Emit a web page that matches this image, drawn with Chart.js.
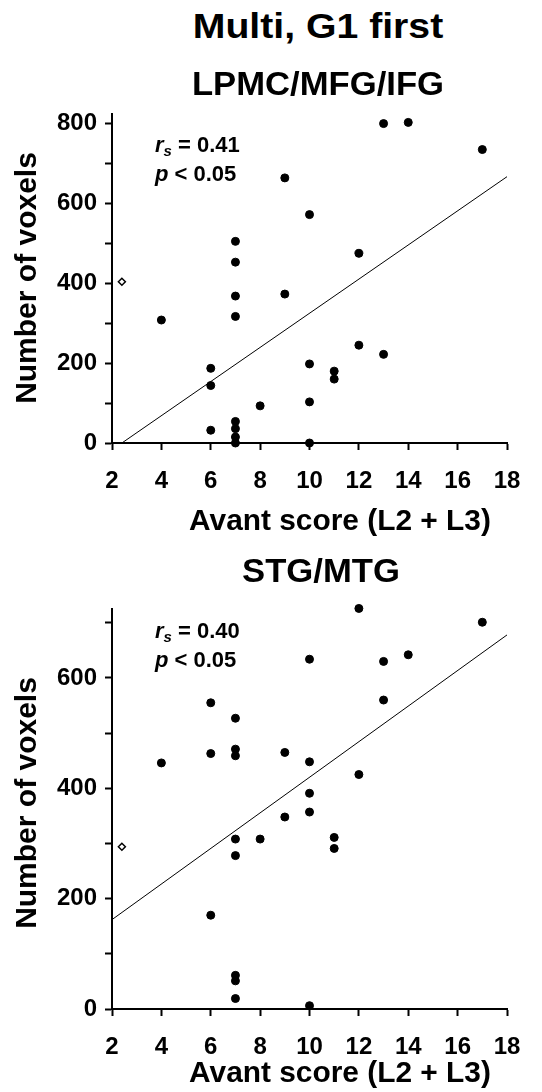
<!DOCTYPE html>
<html lang="en">
<head>
    <meta charset="UTF-8">
    <title>Multi, G1 first</title>
    <style>
        body {
            margin: 0;
            background: #fff;
            font-family: "Liberation Sans", Arial, sans-serif;
            font-weight: bold;
            color: #000;
        }
        .page {
            position: relative;
            width: 542px;
            height: 1092px;
            overflow: hidden;
        }
        .box {
            position: absolute;
            left: 0;
            width: 542px;
        }
        .txt {
            position: absolute;
            width: 600px;
            text-align: center;
            line-height: 1;
            white-space: nowrap;
        }
        .ytitle {
            position: absolute;
            width: 300px;
            text-align: center;
            font-size: 30px;
            line-height: 1;
            white-space: nowrap;
            transform: rotate(-90deg);
        }
        .stat {
            position: absolute;
            font-size: 22px;
            line-height: 29px;
            white-space: nowrap;
        }
        .stat sub {
            font-size: 15px;
            line-height: 0;
            vertical-align: -4px;
        }
    </style>
</head>
<body>
<div class="page">
    <div class="txt" style="left:18px;top:8px;font-size:35px;transform:scaleX(1.12)">Multi, G1 first</div>

    <div class="box" style="top:0;height:545px"><canvas id="chartTop"></canvas></div>
    <div class="txt" style="left:18px;top:67px;font-size:33px;transform:scaleX(1.05)">LPMC/MFG/IFG</div>
    <div class="ytitle" style="left:-124px;top:263px">Number of voxels</div>
    <div class="txt" style="left:40px;top:506px;font-size:29px;transform:scaleX(1.03)">Avant score (L2 + L3)</div>
    <div class="stat" style="left:155px;top:130px"><i>r</i><sub><i>s</i></sub> = 0.41<br><i>p</i> &lt; 0.05</div>

    <div class="box" style="top:545px;height:547px"><canvas id="chartBottom"></canvas></div>
    <div class="txt" style="left:21px;top:554px;font-size:33px;transform:scaleX(1.05)">STG/MTG</div>
    <div class="ytitle" style="left:-124px;top:788px">Number of voxels</div>
    <div class="txt" style="left:40px;top:1058px;font-size:29px;transform:scaleX(1.03)">Avant score (L2 + L3)</div>
    <div class="stat" style="left:155px;top:616px"><i>r</i><sub><i>s</i></sub> = 0.40<br><i>p</i> &lt; 0.05</div>
</div>

<script src="https://cdn.jsdelivr.net/npm/chart.js"></script>
<script>
    // x axis (Avant score) ticks, shared by both panels
    const xTicks = [2, 4, 6, 8, 10, 12, 14, 16, 18];

    // LPMC/MFG/IFG panel
    const lpmcX = [13, 14, 17, 9, 10, 7, 7, 12, 7, 9, 4, 7, 6, 6, 6, 7, 7, 7, 7, 8, 10, 10, 10, 11, 11, 12, 13];
    const lpmcY = [800, 803, 735, 664, 572, 505, 453, 475, 368, 373, 308, 317, 187, 144, 32, 54, 36, 15, 0, 93, 198, 103, 0, 180, 160, 245, 222];
    const lpmcOpenX = [2.4];
    const lpmcOpenY = [404];
    const lpmcFitX = [2.4, 18];
    const lpmcFitY = [0, 667];
    const lpmcYTicks = [0, 100, 200, 300, 400, 500, 600, 700, 800];

    // STG/MTG panel
    const stgX = [12, 17, 10, 13, 14, 13, 6, 7, 6, 7, 7, 9, 10, 4, 12, 10, 10, 9, 7, 8, 11, 11, 7, 6, 7, 7, 7, 10];
    const stgY = [726, 701, 634, 630, 642, 560, 555, 527, 463, 471, 459, 465, 448, 446, 425, 391, 357, 348, 308, 308, 311, 291, 278, 170, 61, 51, 19, 6];
    const stgOpenX = [2.4];
    const stgOpenY = [294];
    const stgFitX = [2, 18];
    const stgFitY = [162, 678];
    const stgYTicks = [0, 100, 200, 300, 400, 500, 600, 700];

    Chart.defaults.font.family = "'Liberation Sans', Arial, sans-serif";
    Chart.defaults.font.size = 24;
    Chart.defaults.font.weight = 'bold';
    Chart.defaults.color = '#000';

    function pts(xs, ys) {
        return xs.map((x, i) => ({ x: x, y: ys[i] }));
    }

    function makeChart(id, opt) {
        const ctx = document.getElementById(id).getContext('2d');
        return new Chart(ctx, {
            type: 'scatter',
            data: {
                datasets: [
                    {
                        type: 'line',
                        data: pts(opt.fitX, opt.fitY),
                        borderColor: '#000',
                        borderWidth: 1,
                        pointRadius: 0,
                        fill: false,
                        clip: false
                    },
                    {
                        data: pts(opt.x, opt.y),
                        backgroundColor: '#000',
                        borderColor: '#000',
                        pointRadius: 4,
                        clip: false
                    },
                    {
                        data: pts(opt.openX, opt.openY),
                        pointStyle: 'rectRot',
                        backgroundColor: '#fff',
                        borderColor: '#000',
                        borderWidth: 1.5,
                        pointRadius: 3.5,
                        clip: false
                    }
                ]
            },
            options: {
                responsive: true,
                maintainAspectRatio: false,
                animation: false,
                events: [],
                layout: { padding: { top: opt.top, right: 35, left: 0, bottom: 0 } },
                plugins: { legend: { display: false }, tooltip: { enabled: false } },
                scales: {
                    x: {
                        type: 'linear',
                        min: 2,
                        max: 18,
                        afterBuildTicks: s => { s.ticks = xTicks.map(v => ({ value: v })); },
                        afterFit: s => { s.height = opt.xHeight; },
                        ticks: {
                            color: '#000',
                            font: { size: 24, weight: 'bold' },
                            padding: 17,
                            maxRotation: 0,
                            autoSkip: false
                        },
                        grid: { drawOnChartArea: false, tickLength: 7, tickWidth: 2, tickColor: '#000' },
                        border: { color: '#000', width: 2 }
                    },
                    y: {
                        min: 0,
                        max: opt.yMax,
                        afterBuildTicks: s => { s.ticks = opt.yTicks.map(v => ({ value: v })); },
                        afterFit: s => { s.width = 112; },
                        ticks: {
                            color: '#000',
                            font: { size: 24, weight: 'bold' },
                            padding: 8,
                            autoSkip: false,
                            callback: v => (v % 200 === 0 ? String(v) : '')
                        },
                        grid: { drawOnChartArea: false, tickLength: 7, tickWidth: 2, tickColor: '#000' },
                        border: { color: '#000', width: 2 }
                    }
                }
            }
        });
    }

    makeChart('chartTop', {
        x: lpmcX, y: lpmcY, openX: lpmcOpenX, openY: lpmcOpenY,
        fitX: lpmcFitX, fitY: lpmcFitY, yTicks: lpmcYTicks,
        yMax: 824, top: 114, xHeight: 102
    });

    makeChart('chartBottom', {
        x: stgX, y: stgY, openX: stgOpenX, openY: stgOpenY,
        fitX: stgFitX, fitY: stgFitY, yTicks: stgYTicks,
        yMax: 725, top: 64, xHeight: 83
    });
</script>
</body>
</html>
